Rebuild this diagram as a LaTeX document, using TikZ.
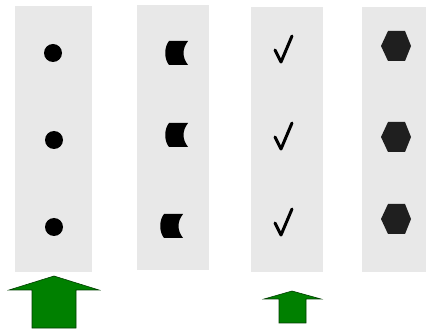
\documentclass[tikz,border=0pt]{standalone}
\begin{document}
\begin{tikzpicture}[x=1pt,y=-1pt,
  col/.style={fill=black!9, draw=none, inner sep=0pt, anchor=north west},
  dot/.style={circle, fill=black, inner sep=0pt, minimum size=18pt},
  arrowshape/.style={fill=green!50!black, draw=black!60!green!60!black, line width=0.6pt, line join=miter},
  chk/.style={line width=3pt, line cap=round, line join=round},
  hexf/.style={fill=black!88, draw=none}
]
\useasboundingbox (0,0) rectangle (426,331);
% columns
\node[col, minimum width=77pt, minimum height=266pt] (c1) at (15,6) {};
\node[col, minimum width=72pt, minimum height=265pt] (c2) at (137,5) {};
\node[col, minimum width=72pt, minimum height=265pt] (c3) at (251,7) {};
\node[col, minimum width=64pt, minimum height=265pt] (c4) at (362,7) {};
% dots
\node[dot] (d1) at (53,53) {};
\node[dot] (d2) at (54,140) {};
\node[dot] (d3) at (54,227) {};
% cylinder-like shapes
\foreach \x/\y/\n in {165/41/a,165/123/b,160/214/c}{
  \fill[black] (\x+4,\y) -- (\x+23,\y) .. controls (\x+17,\y+8) and (\x+17,\y+16) .. (\x+23,\y+24)
     -- (\x+4,\y+24) .. controls (\x-1,\y+18) and (\x-1,\y+6) .. (\x+4,\y) -- cycle;
}
% checks
\foreach \x/\y in {274/35,274/122,274/208}{
  \draw[chk] (\x+1,\y+15) -- (\x+7,\y+27) -- (\x+18,\y+1);
}
% hexagons
\foreach \x/\y in {396/46,396/137,396/219}{
  \fill[hexf] (\x-15,\y) -- (\x-8,\y-15) -- (\x+9,\y-15) -- (\x+15,\y) -- (\x+9,\y+15) -- (\x-8,\y+15) -- cycle;
}
% arrows
\draw[arrowshape] (54,276) -- (99,290) -- (76,290) -- (76,328) -- (32,328) -- (32,290) -- (9,290) -- cycle;
\draw[arrowshape] (292,291) -- (321,299) -- (306,299) -- (306,323) -- (279,323) -- (279,299) -- (264,299) -- cycle;
\end{tikzpicture}
\end{document}
